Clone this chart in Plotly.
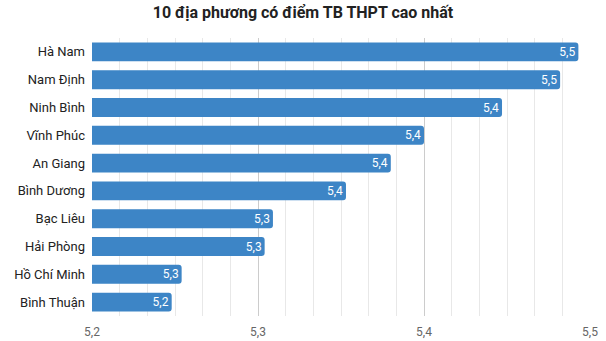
import plotly.graph_objects as go

provinces = ["Hà Nam", "Nam Định", "Ninh Bình", "Vĩnh Phúc", "An Giang",
             "Bình Dương", "Bạc Liêu", "Hải Phòng", "Hồ Chí Minh", "Bình Thuận"]
scores = [5.493, 5.482, 5.447, 5.400, 5.380, 5.353, 5.309, 5.304, 5.254, 5.248]
tick_vals = [5.2, 5.3, 5.4, 5.5]

fig = go.Figure(go.Bar(
    x=scores, y=provinces, orientation="h",
    marker=dict(color="#3d85c6", line=dict(width=0)),
    texttemplate="%{x:.1f}", textposition="inside", insidetextanchor="end",
    textfont=dict(color="white", size=12, family="Roboto"),
    cliponaxis=False,
))

fig.update_layout(
    width=606, height=341,
    margin=dict(l=92, r=16, t=38, b=25),
    paper_bgcolor="white", plot_bgcolor="white",
    separators=",.",
    bargap=0.32,
    barcornerradius=3,
    uniformtext=dict(minsize=12, mode="show"),
    title=dict(text="<b>10 địa phương có điểm TB THPT cao nhất</b>",
               x=0.5, xanchor="center", y=0.965, yanchor="middle",
               font=dict(family="Roboto", size=16, color="#222222")),
    font=dict(family="Roboto"),
    showlegend=False,
)
fig.update_xaxes(
    range=[5.2, 5.5], tickvals=tick_vals, tickformat=".1f",
    showgrid=True, gridcolor="#cccccc", gridwidth=1,
    minor=dict(dtick=0.1 / 6, showgrid=True, gridcolor="#e8e8e8", gridwidth=1),
    tickfont=dict(size=12, color="#666666", family="Roboto"),
    zeroline=False, showline=False, ticks="", ticklabelstandoff=7,
    automargin=False,
)
fig.update_yaxes(
    autorange="reversed", showgrid=False, showline=False, ticks="",
    tickfont=dict(size=13, color="#222222", family="Roboto"),
    ticklabelstandoff=6, automargin=False,
)

fig.write_html("out.html")
